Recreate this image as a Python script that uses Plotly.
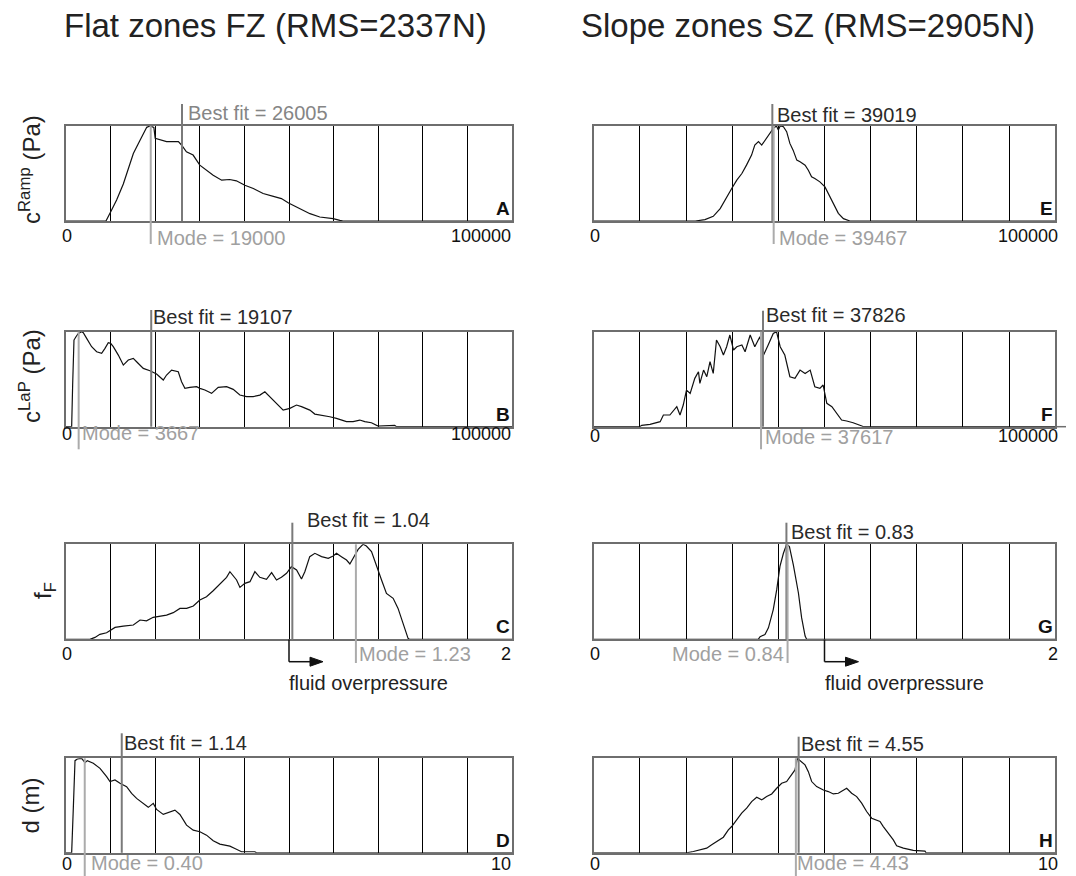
import plotly.graph_objects as go

# ---------------- data (normalised frequency) ----------------
A_x = [0, 8960, 10000, 11350, 12850, 15100, 16600, 18100, 18800, 19700, 20000, 21100, 22550, 25200, 25900,
       27000, 28500, 30000, 31500, 33000, 34900, 36700, 38200, 40100, 42000, 44200, 46500, 48300, 49900,
       50900, 52400, 54700, 56900, 59900, 61400, 62100, 100000]
A_y = [0, 0, 0.095, 0.22, 0.39, 0.71, 0.85, 0.986, 1.0, 0.986, 0.87, 0.852, 0.835, 0.835, 0.80, 0.729, 0.694,
       0.588, 0.535, 0.482, 0.43, 0.437, 0.423, 0.377, 0.342, 0.289, 0.26, 0.236, 0.19, 0.165, 0.13, 0.077,
       0.042, 0.025, 0.007, 0, 0]

B_x = [0, 1270, 1490, 1790, 2240, 2760, 3510, 3880, 4630, 5750, 6870, 7990, 8740, 9480, 10010, 10600, 11730,
       12850, 13970, 15090, 15830, 17330, 18820, 20310, 21810, 22550, 23670, 25170, 25910, 26660, 27780, 29280,
       30020, 31140, 32640, 34130, 36000, 37490, 38980, 40480, 41970, 43470, 44590, 45710, 47200, 48690, 50190,
       51680, 52800, 54670, 55790, 57280, 59150, 60640, 62880, 64370, 65870, 66990, 68480, 69980, 73710, 74080,
       100000]
B_y = [0, 0, 0.439, 0.912, 0.947, 0.982, 1.0, 0.989, 0.93, 0.842, 0.789, 0.772, 0.825, 0.884, 0.877, 0.842,
       0.754, 0.649, 0.702, 0.719, 0.684, 0.614, 0.589, 0.554, 0.491, 0.544, 0.596, 0.579, 0.474, 0.404, 0.414,
       0.421, 0.404, 0.386, 0.351, 0.414, 0.421, 0.393, 0.333, 0.316, 0.316, 0.333, 0.368, 0.316, 0.246, 0.175,
       0.193, 0.228, 0.211, 0.175, 0.133, 0.123, 0.105, 0.088, 0.053, 0.053, 0.07, 0.053, 0.042, 0.007, 0.014,
       0, 0]

C_x = [0, 0.1075, 0.130, 0.152, 0.182, 0.200, 0.220, 0.257, 0.302, 0.332, 0.361, 0.391, 0.421, 0.451, 0.481,
       0.511, 0.541, 0.571, 0.600, 0.630, 0.660, 0.690, 0.720, 0.735, 0.750, 0.765, 0.780, 0.802, 0.825, 0.847,
       0.869, 0.899, 0.922, 0.944, 0.966, 0.989, 1.011, 1.034, 1.056, 1.071, 1.093, 1.116, 1.146, 1.176, 1.198,
       1.213, 1.235, 1.258, 1.273, 1.288, 1.310, 1.332, 1.347, 1.370, 1.392, 1.415, 1.437, 1.467, 1.489, 1.512,
       1.534, 1.541, 2.0]
C_y = [0, 0, 0.021, 0.053, 0.070, 0.098, 0.126, 0.140, 0.151, 0.204, 0.196, 0.232, 0.246, 0.256, 0.281, 0.326,
       0.326, 0.351, 0.414, 0.449, 0.512, 0.582, 0.653, 0.712, 0.667, 0.625, 0.547, 0.589, 0.607, 0.712, 0.653,
       0.632, 0.702, 0.625, 0.653, 0.695, 0.765, 0.730, 0.635, 0.712, 0.870, 0.905, 0.870, 0.853, 0.877, 0.905,
       0.870, 0.835, 0.793, 0.853, 0.947, 1.0, 0.982, 0.923, 0.765, 0.625, 0.484, 0.432, 0.326, 0.168, 0.011,
       0, 0]

D_x = [0, 0.127, 0.164, 0.202, 0.254, 0.351, 0.426, 0.478, 0.612, 0.762, 0.911, 0.986, 1.098, 1.210, 1.359,
       1.471, 1.583, 1.733, 1.845, 1.957, 2.031, 2.181, 2.330, 2.442, 2.554, 2.703, 2.853, 3.002, 3.151, 3.301,
       3.450, 3.674, 3.786, 3.936, 4.234, 4.272, 10]
D_y = [0, 0, 0.47, 0.975, 0.993, 1.0, 0.954, 0.975, 0.947, 0.894, 0.806, 0.753, 0.770, 0.735, 0.700, 0.629,
       0.576, 0.523, 0.481, 0.523, 0.459, 0.406, 0.435, 0.452, 0.406, 0.293, 0.240, 0.223, 0.187, 0.127, 0.092,
       0.071, 0.046, 0.011, 0.011, 0, 0]

E_x = [0, 22000, 24100, 25900, 27400, 28800, 29900, 31000, 32100, 33100, 34200, 34900, 35700, 36400, 37100,
       37800, 38300, 38900, 39600, 40000, 40400, 41100, 41800, 42500, 43200, 44000, 44700, 45800, 46500, 47200,
       47900, 49000, 50100, 50800, 51900, 53000, 54100, 55500, 100000]
E_y = [0, 0, 0.014, 0.049, 0.130, 0.254, 0.342, 0.430, 0.500, 0.588, 0.694, 0.799, 0.835, 0.799, 0.852, 0.905,
       0.930, 0.975, 1.0, 0.958, 1.0, 0.993, 0.940, 0.817, 0.746, 0.641, 0.623, 0.588, 0.535, 0.465, 0.447,
       0.412, 0.359, 0.289, 0.183, 0.081, 0.025, 0, 0]

F_x = [0, 10000, 10400, 12200, 14400, 15100, 16500, 17300, 18000, 18700, 19400, 20100, 20900, 21900, 22700,
       23000, 23800, 24500, 25200, 25900, 26600, 27400, 28100, 28800, 29500, 30300, 31000, 32100, 32800, 33900,
       34900, 36000, 36800, 37800, 38900, 39600, 40400, 41400, 42500, 43600, 44700, 45800, 46900, 47900, 49000,
       49700, 50500, 51600, 52600, 53700, 54800, 56200, 58100, 58400, 100000]
F_y = [0, 0, 0.014, 0.025, 0.053, 0.123, 0.123, 0.175, 0.211, 0.123, 0.228, 0.386, 0.351, 0.509, 0.579, 0.456,
       0.596, 0.526, 0.684, 0.561, 0.912, 0.842, 0.754, 0.842, 0.965, 0.807, 0.842, 0.860, 0.789, 0.965, 0.842,
       0.947, 0.754, 0.860, 0.982, 1.0, 0.842, 0.754, 0.526, 0.509, 0.596, 0.561, 0.596, 0.421, 0.404, 0.439,
       0.246, 0.211, 0.140, 0.070, 0.060, 0.042, 0.007, 0, 0]

G_x = [0, 0.713, 0.721, 0.742, 0.757, 0.778, 0.793, 0.807, 0.822, 0.836, 0.848, 0.865, 0.887, 0.901, 0.916,
       0.923, 2.0]
G_y = [0, 0, 0.028, 0.052, 0.122, 0.314, 0.523, 0.767, 0.906, 1.0, 0.976, 0.784, 0.488, 0.226, 0.035, 0, 0]

H_x = [0, 2.014, 2.159, 2.303, 2.448, 2.556, 2.664, 2.809, 2.917, 2.989, 3.097, 3.206, 3.314, 3.422, 3.531,
       3.639, 3.747, 3.856, 3.964, 4.072, 4.180, 4.289, 4.361, 4.412, 4.469, 4.578, 4.650, 4.722, 4.830, 4.975,
       5.083, 5.191, 5.300, 5.408, 5.480, 5.588, 5.697, 5.805, 5.913, 6.022, 6.130, 6.202, 6.274, 6.383, 6.491,
       6.563, 6.708, 6.924, 7.177, 7.2, 10]
H_y = [0, 0, 0.014, 0.032, 0.049, 0.085, 0.120, 0.165, 0.243, 0.278, 0.349, 0.419, 0.472, 0.542, 0.588, 0.560,
       0.595, 0.623, 0.683, 0.736, 0.754, 0.824, 0.877, 1.0, 0.975, 0.930, 0.859, 0.754, 0.701, 0.665, 0.648,
       0.623, 0.630, 0.665, 0.683, 0.630, 0.595, 0.525, 0.437, 0.366, 0.349, 0.331, 0.278, 0.208, 0.137, 0.074,
       0.049, 0.025, 0.018, 0, 0]

letters = ["A", "B", "C", "D", "E", "F", "G", "H"]
xmax_vals = [100000, 100000, 2, 10, 100000, 100000, 2, 10]
xmax_labels = ["100000", "100000", "2", "10", "100000", "100000", "2", "10"]
best_pos = [26005, 19107, 1.015, 1.25, 38700, 36680, 0.835, 4.44]
best_text = ["Best fit = 26005", "Best fit = 19107", "Best fit = 1.04", "Best fit = 1.14",
             "Best fit = 39019", "Best fit = 37826", "Best fit = 0.83", "Best fit = 4.55"]
mode_pos = [19000, 2840, 1.30, 0.42, 38990, 36250, 0.84, 4.38]
mode_text = ["Mode = 19000", "Mode = 3667", "Mode = 1.23", "Mode = 0.40",
             "Mode = 39467", "Mode = 37617", "Mode = 0.84", "Mode = 4.43"]
overpressure_x = 1.0
titles = ["Flat zones FZ (RMS=2337N)", "Slope zones SZ (RMS=2905N)"]
ylabels = ["c<sup>Ramp</sup> (Pa)", "c<sup>LaP</sup> (Pa)", "f<sub>F</sub>", "d (m)"]

series = [(A_x, A_y), (B_x, B_y), (C_x, C_y), (D_x, D_y), (E_x, E_y), (F_x, F_y), (G_x, G_y), (H_x, H_y)]

# ---------------- layout geometry (pixels) ----------------
FONT = "Liberation Sans, Arial, Helvetica, sans-serif"
W, H = 1076, 876
COLS = [(66, 512), (593.7, 1055.3)]
ROWS = [(126, 221), (331.7, 426.7), (544.3, 639.4), (758.3, 852.8)]
BEST_TOP = [104, 310, 522.7, 733.3, 104, 310.7, 522.7, 736.7]
BEST_LAB = [(7, 113.3), (3, 316.7), (16, 520), (3, 743.3), (6, 115), (4, 315), (6, 531.7), (3, 744)]
BEST_COL = ["#858585", "#2a2a2a", "#2a2a2a", "#2a2a2a", "#2a2a2a", "#2a2a2a", "#2a2a2a", "#2a2a2a"]
MODE_BOT = [244, 449.3, 663, 876, 244, 449.3, 663, 876]
MODE_LAB = [(7.5, 238.3, "left"), (4.5, 433.3, "left"), (4, 654, "left"), (7.5, None, "left"),
            (6.3, 238.3, "left"), (5, 436.7, "left"), (-5, 654, "right"), (2.5, None, "left")]
TICK_Y = [236, 434.5, 654, None, 236, 436, 654, None]   # None -> sits on the bottom edge
YLAB_POS = [(30, 170), (30, 376), (44, 591), (30, 805.5)]


def px(x):
    return x / W


def py(y):
    return 1 - y / H


def ypos(yc):
    if yc is None:
        return dict(y=0, yanchor="bottom")
    return dict(y=py(yc), yanchor="middle")


fig = go.Figure()
layout = {}
shapes = []
ann = []

for i, (xs, ys) in enumerate(series):
    n = i + 1
    col, row = i // 4, i % 4
    x0, x1 = COLS[col]
    y0, y1 = ROWS[row]
    xs_name = "x" if n == 1 else f"x{n}"
    ys_name = "y" if n == 1 else f"y{n}"
    xa_key = "xaxis" if n == 1 else f"xaxis{n}"
    ya_key = "yaxis" if n == 1 else f"yaxis{n}"
    xmax = xmax_vals[i]

    fig.add_trace(go.Scatter(x=xs, y=ys, mode="lines", line=dict(color="#111111", width=1.2),
                             xaxis=xs_name, yaxis=ys_name, hoverinfo="skip", showlegend=False))

    layout[xa_key] = dict(domain=[px(x0), px(x1)], range=[0, xmax], anchor=ys_name,
                          showgrid=True, gridcolor="#000000", gridwidth=1, tick0=0, dtick=xmax / 10,
                          showticklabels=False, ticks="", zeroline=False,
                          showline=True, mirror=True, linecolor="#6e6e6e", linewidth=1.5, fixedrange=True)
    layout[ya_key] = dict(domain=[py(y1), py(y0)], range=[0, 1], anchor=xs_name,
                          showgrid=False, showticklabels=False, ticks="", zeroline=False,
                          showline=True, mirror=True, linecolor="#6e6e6e", linewidth=1.5, fixedrange=True)

    # best-fit line
    shapes.append(dict(type="line", xref=xs_name, yref="paper", x0=best_pos[i], x1=best_pos[i],
                       y0=py(BEST_TOP[i]), y1=py(y1), line=dict(color="#7a7a7a", width=2)))
    # mode line
    shapes.append(dict(type="line", xref=xs_name, yref="paper", x0=mode_pos[i], x1=mode_pos[i],
                       y0=py(y0), y1=py(MODE_BOT[i]), line=dict(color="#ababab", width=2)))

    bdx, byc = BEST_LAB[i]
    ann.append(dict(x=best_pos[i], xref=xs_name, yref="paper", text=best_text[i],
                    xanchor="left", xshift=bdx - 3, showarrow=False,
                    font=dict(family=FONT, size=20, color=BEST_COL[i]), **ypos(byc)))
    mdx, myc, manc = MODE_LAB[i]
    ann.append(dict(x=mode_pos[i], xref=xs_name, yref="paper", text=mode_text[i],
                    xanchor=manc, xshift=(mdx - 3) if manc == "left" else (mdx + 3),
                    showarrow=False, font=dict(family=FONT, size=20, color="#a0a0a0"), **ypos(myc)))
    # axis end labels
    ann.append(dict(x=0, xref=xs_name, yref="paper", text="0", xanchor="center",
                    xshift=1, showarrow=False, font=dict(family=FONT, size=18, color="#111"),
                    **ypos(TICK_Y[i])))
    ann.append(dict(x=xmax, xref=xs_name, yref="paper", text=xmax_labels[i],
                    xanchor="right", xshift=1 if col == 0 else 5, showarrow=False,
                    font=dict(family=FONT, size=18, color="#111"), **ypos(TICK_Y[i])))
    # panel letter
    ann.append(dict(x=1, xref=f"{xs_name} domain", y=0, yref=f"{ys_name} domain", text=f"<b>{letters[i]}</b>",
                    xanchor="right", yanchor="bottom", showarrow=False,
                    font=dict(family=FONT, size=19, color="#111")))

    if row == 2:
        # fluid overpressure arrow: drop line, horizontal shaft and head
        shapes.append(dict(type="line", xref=xs_name, yref="paper", x0=overpressure_x, x1=overpressure_x,
                           y0=py(y1), y1=py(661.7), line=dict(color="#111", width=1.5)))
        shapes.append(dict(type="path", xref=xs_name, xsizemode="pixel", xanchor=overpressure_x,
                           yref="paper", ysizemode="pixel", yanchor=py(661.7),
                           path="M 0 0 L 24 0", line=dict(color="#111", width=1.5)))
        shapes.append(dict(type="path", xref=xs_name, xsizemode="pixel", xanchor=overpressure_x,
                           yref="paper", ysizemode="pixel", yanchor=py(661.7),
                           path="M 21 -4.5 L 34 0 L 21 4.5 Z", fillcolor="#111", line=dict(color="#111", width=1)))
        ann.append(dict(x=overpressure_x, xref=xs_name, y=py(682.7), yref="paper", text="fluid overpressure",
                        xanchor="left", yanchor="middle", xshift=-2, showarrow=False,
                        font=dict(family=FONT, size=20, color="#222")))

# extension of the F x-axis beyond its frame
shapes.append(dict(type="line", xref="paper", yref="paper", x0=px(1055), x1=px(1066), y0=py(426.7),
                   y1=py(426.7), line=dict(color="#6e6e6e", width=1.5)))

# titles
ann.append(dict(x=px(62), xref="paper", y=py(25), yref="paper", text=titles[0], xanchor="left",
                yanchor="middle", showarrow=False, font=dict(family=FONT, size=33, color="#222")))
ann.append(dict(x=px(578.5), xref="paper", y=py(25), yref="paper", text=titles[1], xanchor="left",
                yanchor="middle", showarrow=False, font=dict(family=FONT, size=33, color="#222")))

# y labels
for (lx, ly), txt in zip(YLAB_POS, ylabels):
    ann.append(dict(x=px(lx), xref="paper", y=py(ly), yref="paper", text=txt, textangle=-90,
                    xanchor="center", yanchor="middle", showarrow=False,
                    font=dict(family=FONT, size=24, color="#222")))

fig.update_layout(width=W, height=H, margin=dict(l=0, r=0, t=0, b=0), paper_bgcolor="white",
                  plot_bgcolor="white", showlegend=False, shapes=shapes, annotations=ann, **layout)

fig.write_html("out.html", config={"displayModeBar": False})
